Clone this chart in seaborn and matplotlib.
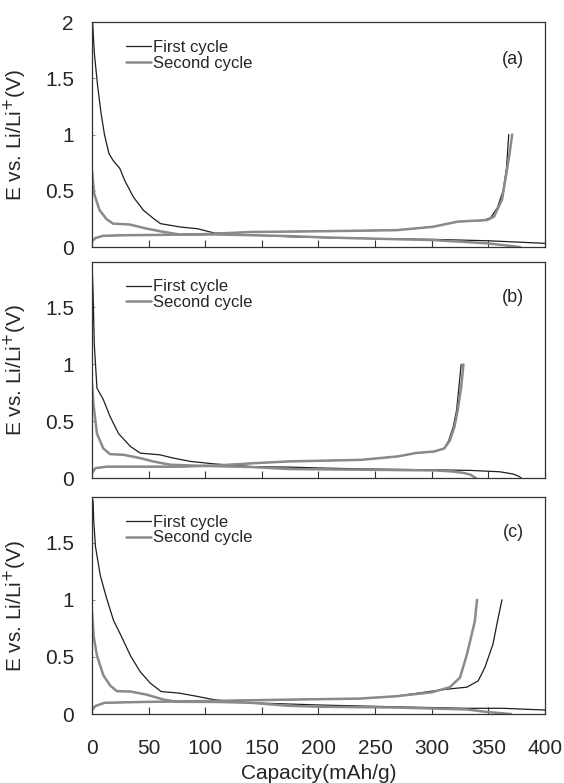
import numpy as np
import pandas as pd
import seaborn as sns
import matplotlib
matplotlib.use('Agg')
import matplotlib.pyplot as plt
from matplotlib.ticker import FormatStrFormatter, MultipleLocator

sns.set_theme(style='white')
plt.rcParams['font.family'] = ['Liberation Sans', 'DejaVu Sans']

# ---- panel (a) ----
a1_dis_cap = [0, 0.6, 2.1, 5, 8, 11, 15, 18.6, 24.5, 29, 36.5, 45.5, 54.5, 60.5, 78, 93, 108, 123, 141, 173, 205, 237, 301, 349, 400, 410]
a1_dis_v = [2.0, 1.99, 1.72, 1.43, 1.19, 1.0, 0.83, 0.77, 0.70, 0.59, 0.445, 0.326, 0.252, 0.208, 0.178, 0.163, 0.125, 0.115, 0.107, 0.092, 0.083, 0.077, 0.068, 0.056, 0.033, 0.03]
a1_chg_cap = [0, 3, 10, 30, 60, 100, 141, 200, 269, 301, 323, 345, 352, 358, 363, 366, 368]
a1_chg_v = [0.05, 0.08, 0.1, 0.105, 0.108, 0.115, 0.134, 0.14, 0.15, 0.18, 0.226, 0.235, 0.26, 0.35, 0.5, 0.7, 1.0]
a2_dis_cap = [0, 2, 6.6, 12.6, 18.6, 33.5, 48.5, 63.5, 78, 108, 141, 173, 205, 237, 301, 349, 365, 378]
a2_dis_v = [0.68, 0.47, 0.33, 0.25, 0.208, 0.2, 0.163, 0.134, 0.11, 0.112, 0.105, 0.098, 0.086, 0.077, 0.062, 0.033, 0.015, 0.0]
a2_chg_cap = [0, 3, 10, 30, 60, 100, 141, 200, 269, 301, 323, 349, 355, 362, 366, 369, 371]
a2_chg_v = [0.05, 0.08, 0.1, 0.105, 0.108, 0.115, 0.134, 0.14, 0.15, 0.18, 0.226, 0.24, 0.27, 0.42, 0.66, 0.85, 1.0]

# ---- panel (b) ----
b1_dis_cap = [0, 1, 2, 4.4, 10, 16, 23.5, 34, 42.6, 60, 72, 87, 107, 142, 174, 206, 240, 300, 334, 360, 372, 377, 379]
b1_dis_v = [1.9, 1.62, 1.18, 0.79, 0.69, 0.54, 0.39, 0.277, 0.219, 0.204, 0.175, 0.146, 0.125, 0.10, 0.096, 0.087, 0.08, 0.072, 0.067, 0.055, 0.035, 0.015, 0.0]
b1_chg_cap = [0, 3, 13, 30, 78, 110, 142, 174, 238, 270, 286, 302, 311, 315, 319, 322, 324, 326]
b1_chg_v = [0.044, 0.087, 0.10, 0.1, 0.10, 0.11, 0.13, 0.146, 0.16, 0.19, 0.22, 0.233, 0.26, 0.33, 0.45, 0.6, 0.8, 1.0]
b2_dis_cap = [0, 1.5, 4.4, 10, 16, 28, 42.6, 54, 69, 93, 142, 174, 238, 302, 318, 328, 334, 339]
b2_dis_v = [0.83, 0.63, 0.39, 0.26, 0.21, 0.204, 0.175, 0.146, 0.117, 0.108, 0.096, 0.079, 0.073, 0.067, 0.058, 0.045, 0.03, 0.0]
b2_chg_cap = [0, 3, 13, 30, 78, 110, 142, 174, 238, 270, 286, 302, 311, 316, 320, 323, 326, 328]
b2_chg_v = [0.044, 0.087, 0.10, 0.1, 0.10, 0.11, 0.13, 0.146, 0.16, 0.19, 0.22, 0.233, 0.26, 0.33, 0.45, 0.6, 0.8, 1.0]

# ---- panel (c) ----
c1_dis_cap = [0, 1, 1.5, 3, 7.4, 13, 19, 25, 34, 42.6, 51.5, 61, 77, 92.6, 107, 119, 141, 204, 268, 331, 363, 400, 410]
c1_dis_v = [1.9, 1.86, 1.7, 1.47, 1.21, 1.01, 0.82, 0.70, 0.51, 0.37, 0.27, 0.197, 0.183, 0.155, 0.127, 0.113, 0.098, 0.078, 0.063, 0.05, 0.05, 0.035, 0.03]
c1_chg_cap = [0, 3, 11, 46, 109, 173, 236, 268, 300, 316, 331, 341, 347, 354, 358, 362]
c1_chg_v = [0.035, 0.07, 0.098, 0.106, 0.115, 0.126, 0.135, 0.155, 0.2, 0.22, 0.235, 0.29, 0.41, 0.61, 0.81, 1.0]
c2_dis_cap = [0, 1.5, 4.4, 10, 16, 22, 34, 48.5, 63, 75, 109, 141, 173, 204, 268, 331, 347, 360, 370]
c2_dis_v = [0.9, 0.68, 0.51, 0.34, 0.25, 0.2, 0.197, 0.169, 0.127, 0.107, 0.106, 0.098, 0.072, 0.063, 0.057, 0.04, 0.02, 0.008, 0.0]
c2_chg_cap = [0, 3, 11, 46, 109, 173, 236, 268, 300, 316, 325, 331, 338, 340]
c2_chg_v = [0.035, 0.07, 0.098, 0.106, 0.115, 0.126, 0.135, 0.155, 0.19, 0.235, 0.32, 0.52, 0.81, 1.0]

panels = [
    ('(a)', 2.0, (a1_dis_cap, a1_dis_v, a1_chg_cap, a1_chg_v), (a2_dis_cap, a2_dis_v, a2_chg_cap, a2_chg_v)),
    ('(b)', 1.9, (b1_dis_cap, b1_dis_v, b1_chg_cap, b1_chg_v), (b2_dis_cap, b2_dis_v, b2_chg_cap, b2_chg_v)),
    ('(c)', 1.9, (c1_dis_cap, c1_dis_v, c1_chg_cap, c1_chg_v), (c2_dis_cap, c2_dis_v, c2_chg_cap, c2_chg_v)),
]

# axes boxes [left, bottom, width, height] in figure fractions
boxes = [
    [0.1631, 0.6845, 0.8032, 0.2874],
    [0.1631, 0.3895, 0.8032, 0.2759],
    [0.1631, 0.0881, 0.8032, 0.2771],
]

first_col = '#1e1e1e'
second_col = '#8a8a8a'

fig = plt.figure(figsize=(5.64, 7.83), dpi=100)

for i, (tag, ytop, first, second) in enumerate(panels):
    ax = fig.add_axes(boxes[i])
    sns.lineplot(x=first[0], y=first[1], sort=False, estimator=None, color=first_col,
                 lw=0.9, label='First cycle', ax=ax)
    sns.lineplot(x=first[2], y=first[3], sort=False, estimator=None, color=first_col,
                 lw=0.9, ax=ax)
    sns.lineplot(x=second[0], y=second[1], sort=False, estimator=None, color=second_col,
                 lw=1.8, label='Second cycle', ax=ax)
    sns.lineplot(x=second[2], y=second[3], sort=False, estimator=None, color=second_col,
                 lw=1.8, ax=ax)

    ax.set_xlim(0, 400)
    ax.set_ylim(0, ytop)
    ax.xaxis.set_major_locator(MultipleLocator(50))
    ax.yaxis.set_major_locator(MultipleLocator(0.5))
    ax.yaxis.set_major_formatter(FormatStrFormatter('%g'))
    ax.tick_params(axis='x', direction='in', length=5, width=0.8, color='#333333',
                   bottom=True, pad=18, labelsize=15)
    ax.tick_params(axis='y', direction='in', length=2.5, width=0.6, color='#777777',
                   left=True, pad=13, labelsize=15)
    for sp in ax.spines.values():
        sp.set_color('#333333')
        sp.set_linewidth(0.9)

    if i < 2:
        ax.tick_params(axis='x', labelbottom=False)
        ax.set_xlabel('')
    else:
        ax.set_xlabel('Capacity(mAh/g)', fontsize=15, labelpad=4)
    ax.set_ylabel('E vs. Li/Li$^{+}$(V)', fontsize=15)
    ax.yaxis.set_label_coords(-0.138, 0.5)

    ax.text(0.93, 0.835, tag, transform=ax.transAxes, ha='center', va='center', fontsize=13)
    ax.legend(loc='upper left', bbox_to_anchor=(0.06, 0.95), frameon=False, fontsize=12,
              handlelength=1.5, handletextpad=0.15, labelspacing=0.05, borderaxespad=0)

fig.savefig('out.png', dpi=100)
